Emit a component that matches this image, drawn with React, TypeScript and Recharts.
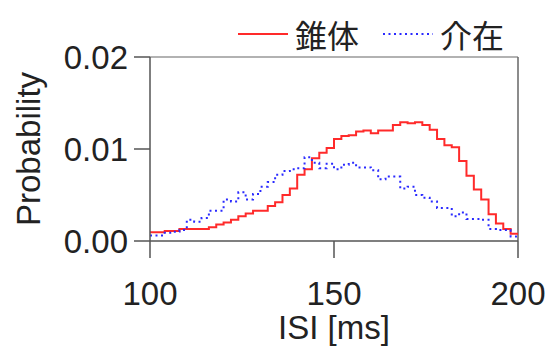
import React from 'react';
import { LineChart, Line, XAxis, YAxis, ReferenceLine } from 'recharts';

// left edges of the 2 ms ISI bins, plus the closing edge at 200
const binEdges = [
  100, 102, 104, 106, 108, 110, 112, 114, 116, 118,
  120, 122, 124, 126, 128, 130, 132, 134, 136, 138,
  140, 142, 144, 146, 148, 150, 152, 154, 156, 158,
  160, 162, 164, 166, 168, 170, 172, 174, 176, 178,
  180, 182, 184, 186, 188, 190, 192, 194, 196, 198, 200,
];

// 錐体 (pyramidal) histogram
const pyramidal = [
  0.00095, 0.00095, 0.0011, 0.0011, 0.0013, 0.0013, 0.0013, 0.0013, 0.0015, 0.0018,
  0.002, 0.0023, 0.0027, 0.003, 0.0033, 0.0033, 0.0038, 0.0042, 0.005, 0.0057,
  0.0072, 0.0078, 0.009, 0.0096, 0.0101, 0.0111, 0.0114, 0.0115, 0.0119, 0.012,
  0.0117, 0.012, 0.012, 0.0126, 0.0129, 0.0128, 0.0129, 0.0126, 0.0121, 0.0111,
  0.0104, 0.0102, 0.0087, 0.0071, 0.0056, 0.0045, 0.0029, 0.0019, 0.0013, 0.0008,
];

// 介在 (interneuron) histogram
const interneuron = [
  0.0006, 0.0006, 0.0009, 0.001, 0.0012, 0.0023, 0.0021, 0.0025, 0.0033, 0.0033,
  0.0045, 0.0043, 0.0053, 0.0045, 0.0051, 0.0059, 0.0064, 0.0072, 0.0076, 0.0078,
  0.0079, 0.0091, 0.0085, 0.0079, 0.0084, 0.0078, 0.0083, 0.0085, 0.008, 0.008,
  0.0077, 0.0067, 0.007, 0.007, 0.0057, 0.0059, 0.005, 0.0047, 0.0043, 0.0036,
  0.0036, 0.0027, 0.0031, 0.0024, 0.0024, 0.0023, 0.0013, 0.0012, 0.0012, 0.0005,
];

const xTicks = [100, 150, 200];
const yTicks = [0, 0.01, 0.02];

const series = [
  { key: 'pyr', name: '錐体', color: '#ff2a2a', dash: undefined as string | undefined },
  { key: 'inter', name: '介在', color: '#2a2aff', dash: '2 3.5' },
];

// last bin value is repeated at the closing edge so the step reaches 200
const data = binEdges.map((isi, i) => ({
  isi,
  pyr: pyramidal[Math.min(i, pyramidal.length - 1)],
  inter: interneuron[Math.min(i, interneuron.length - 1)],
}));

const numFont = '"Liberation Sans", Arial, sans-serif';
const cjkFont = '"Noto Sans CJK JP", "Noto Sans CJK SC", sans-serif';
const textColor = '#222';

const LegendBox = () => (
  <div
    style={{
      position: 'absolute',
      left: 238,
      top: 12,
      display: 'flex',
      alignItems: 'center',
      fontFamily: cjkFont,
      fontSize: 32,
      color: textColor,
      lineHeight: '44px',
    }}
  >
    {series.map((s, i) => (
      <div key={s.key} style={{ display: 'flex', alignItems: 'center', marginLeft: i === 0 ? 0 : 24 }}>
        <svg width={50} height={10} style={{ marginRight: 7 }}>
          <line x1={0} y1={5} x2={50} y2={5} stroke={s.color} strokeWidth={2} strokeDasharray={s.dash} />
        </svg>
        <span>{s.name}</span>
      </div>
    ))}
  </div>
);

export default function App() {
  return (
    <div style={{ position: 'absolute', left: 0, top: 0, width: 549, height: 347, background: '#fff' }}>
      <LineChart width={549} height={347} data={data} margin={{ top: 57, right: 31, bottom: 0, left: 0 }}>
        <XAxis
          dataKey="isi"
          type="number"
          domain={[100, 200]}
          ticks={xTicks}
          height={106}
          tickSize={17}
          tickMargin={24}
          stroke="#555"
          strokeWidth={1.5}
          tick={{ fontSize: 33, fill: textColor, fontFamily: numFont }}
          label={{
            value: 'ISI [ms]',
            position: 'insideBottom',
            offset: 8,
            fontSize: 33,
            fill: textColor,
            fontFamily: numFont,
          }}
        />
        <YAxis
          type="number"
          domain={[0, 0.02]}
          ticks={yTicks}
          width={150}
          tickSize={16}
          tickMargin={6}
          stroke="#555"
          strokeWidth={1.5}
          tickFormatter={(v: number) => v.toFixed(2)}
          tick={{ fontSize: 33, fill: textColor, fontFamily: numFont }}
          label={{
            value: 'Probability',
            angle: -90,
            position: 'insideLeft',
            offset: 28,
            fontSize: 33,
            fill: textColor,
            fontFamily: numFont,
            style: { textAnchor: 'middle' },
          }}
        />
        <ReferenceLine y={0.02} stroke="#999" strokeWidth={1.5} />
        <ReferenceLine x={200} stroke="#666" strokeWidth={1.5} />
        {series.map((s) => (
          <Line
            key={s.key}
            type="stepAfter"
            dataKey={s.key}
            name={s.name}
            stroke={s.color}
            strokeWidth={2}
            strokeDasharray={s.dash}
            dot={false}
            isAnimationActive={false}
          />
        ))}
      </LineChart>
      <LegendBox />
    </div>
  );
}
